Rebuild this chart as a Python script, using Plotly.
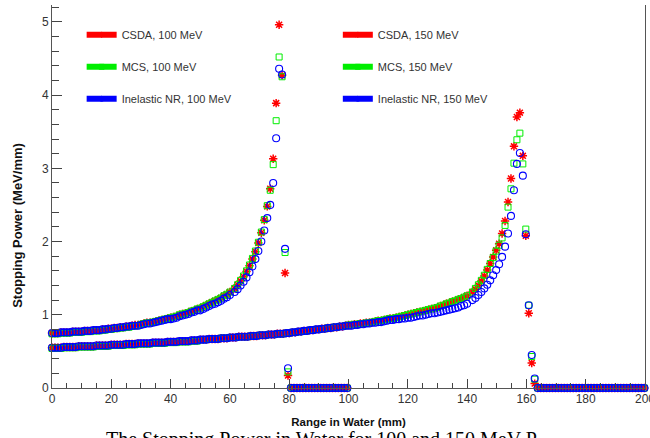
import plotly.graph_objects as go

# ---------------- data ----------------
# 100 MeV beam: sample positions (mm)
x_100_flat = [0, 1, 2, 3, 4, 5, 6, 7, 8, 9, 10, 11, 12, 13, 14, 15, 16, 17, 18, 19,
              20, 21, 22, 23, 24, 25, 26, 27, 28, 29, 30, 31, 32, 33, 34, 35, 36, 37, 38, 39,
              40, 41, 42, 43, 44, 45, 46, 47, 48, 49, 50, 51, 52, 53, 54, 55, 56, 57, 58, 59, 60]
x_100_peak = [61.6, 62.6, 63.6, 64.6, 65.6, 66.6, 67.6, 68.6, 69.6, 70.6, 71.6, 72.6, 73.6,
              74.6, 75.6, 76.6, 77.6, 78.6, 79.6]
x_100_tail = [80.6, 81.6, 82.6, 83.6, 84.6, 85.6, 86.6, 87.6, 88.6, 89.6,
              90.6, 91.6, 92.6, 93.6, 94.6, 95.6, 96.6, 97.6, 98.6, 99.6]

csda_100_flat = [0.75, 0.75, 0.75, 0.76, 0.76, 0.76, 0.76, 0.77, 0.77, 0.77,
                 0.77, 0.78, 0.78, 0.78, 0.79, 0.79, 0.79, 0.80, 0.80, 0.81,
                 0.81, 0.82, 0.82, 0.83, 0.83, 0.84, 0.84, 0.85, 0.86, 0.86,
                 0.87, 0.88, 0.89, 0.89, 0.90, 0.91, 0.92, 0.93, 0.94, 0.95,
                 0.96, 0.97, 0.98, 1.00, 1.01, 1.02, 1.03, 1.05, 1.06, 1.08,
                 1.09, 1.11, 1.13, 1.15, 1.17, 1.19, 1.21, 1.23, 1.26, 1.28,
                 1.31]
csda_100_peak = [1.36, 1.41, 1.46, 1.52, 1.59, 1.67, 1.76, 1.86, 1.98, 2.12, 2.29, 2.48, 2.72,
                 3.13, 3.89, 4.96, 4.27, 1.57, 0.17]

mcs_100_flat = [0.74, 0.74, 0.74, 0.75, 0.75, 0.75, 0.75, 0.76, 0.76, 0.76,
                0.76, 0.77, 0.77, 0.77, 0.78, 0.78, 0.78, 0.79, 0.79, 0.80,
                0.80, 0.81, 0.81, 0.82, 0.82, 0.83, 0.83, 0.84, 0.85, 0.85,
                0.87, 0.88, 0.89, 0.89, 0.90, 0.91, 0.92, 0.93, 0.94, 0.95,
                0.96, 0.97, 0.98, 1.00, 1.01, 1.02, 1.03, 1.05, 1.06, 1.08,
                1.09, 1.11, 1.13, 1.15, 1.17, 1.19, 1.21, 1.23, 1.26, 1.28,
                1.31]
mcs_100_peak = [1.36, 1.41, 1.47, 1.53, 1.60, 1.68, 1.77, 1.87, 1.99, 2.13, 2.30, 2.49, 2.70,
                3.05, 3.65, 4.52, 4.25, 1.85, 0.22]

inel_100_flat = [0.75, 0.75, 0.75, 0.76, 0.76, 0.76, 0.76, 0.77, 0.77, 0.77,
                 0.77, 0.78, 0.78, 0.78, 0.79, 0.79, 0.79, 0.80, 0.80, 0.81,
                 0.81, 0.82, 0.82, 0.83, 0.83, 0.84, 0.84, 0.85, 0.85, 0.85,
                 0.86, 0.87, 0.88, 0.88, 0.89, 0.90, 0.91, 0.92, 0.93, 0.94,
                 0.94, 0.95, 0.96, 0.98, 0.99, 1.00, 1.01, 1.03, 1.04, 1.06,
                 1.06, 1.08, 1.10, 1.12, 1.14, 1.15, 1.17, 1.19, 1.22, 1.24,
                 1.27]
inel_100_peak = [1.31, 1.35, 1.40, 1.45, 1.51, 1.58, 1.66, 1.76, 1.87, 2.00, 2.15, 2.32, 2.50,
                 2.80, 3.41, 4.36, 4.28, 1.90, 0.27]

zeros_100_tail = [0, 0, 0, 0, 0, 0, 0, 0, 0, 0, 0, 0, 0, 0, 0, 0, 0, 0, 0, 0]

# 150 MeV beam: sample positions (mm)
x_150_flat = [0, 1, 2, 3, 4, 5, 6, 7, 8, 9, 10, 11, 12, 13, 14, 15, 16, 17, 18, 19,
              20, 21, 22, 23, 24, 25, 26, 27, 28, 29, 30, 31, 32, 33, 34, 35, 36, 37, 38, 39,
              40, 41, 42, 43, 44, 45, 46, 47, 48, 49, 50, 51, 52, 53, 54, 55, 56, 57, 58, 59,
              60, 61, 62, 63, 64, 65, 66, 67, 68, 69, 70, 71, 72, 73, 74, 75, 76, 77, 78, 79,
              80, 81, 82, 83, 84, 85, 86, 87, 88, 89, 90, 91, 92, 93, 94, 95, 96, 97, 98, 99,
              100, 101, 102, 103, 104, 105, 106, 107, 108, 109, 110, 111, 112, 113, 114, 115,
              116, 117, 118, 119, 120, 121, 122, 123, 124, 125, 126, 127, 128, 129, 130, 131,
              132, 133, 134, 135, 136, 137, 138, 139, 140]
x_150_peak = [141.8, 142.8, 143.8, 144.8, 145.8, 146.8, 147.8, 148.8, 149.8, 150.8,
              151.8, 152.8, 153.8, 154.8, 155.8, 156.8, 157.8, 158.8, 159.8, 160.8,
              161.8, 162.8]
x_150_tail = [163.8, 164.8, 165.8, 166.8, 167.8, 168.8, 169.8, 170.8, 171.8, 172.8,
              173.8, 174.8, 175.8, 176.8, 177.8, 178.8, 179.8, 180.8, 181.8, 182.8,
              183.8, 184.8, 185.8, 186.8, 187.8, 188.8, 189.8, 190.8, 191.8, 192.8,
              193.8, 194.8, 195.8, 196.8, 197.8, 198.8, 199.8]

csda_150_flat = [0.55, 0.55, 0.55, 0.55, 0.56, 0.56, 0.56, 0.56, 0.56, 0.57,
                 0.57, 0.57, 0.57, 0.57, 0.57, 0.58, 0.58, 0.58, 0.58, 0.58,
                 0.59, 0.59, 0.59, 0.59, 0.59, 0.60, 0.60, 0.60, 0.60, 0.61,
                 0.61, 0.61, 0.61, 0.61, 0.62, 0.62, 0.62, 0.62, 0.62, 0.63,
                 0.63, 0.63, 0.63, 0.64, 0.64, 0.64, 0.64, 0.65, 0.65, 0.65,
                 0.66, 0.66, 0.66, 0.67, 0.67, 0.67, 0.67, 0.68, 0.68, 0.68,
                 0.69, 0.69, 0.69, 0.70, 0.70, 0.70, 0.70, 0.71, 0.71, 0.71,
                 0.72, 0.72, 0.72, 0.73, 0.73, 0.73, 0.74, 0.74, 0.74, 0.75,
                 0.75, 0.76, 0.76, 0.77, 0.77, 0.78, 0.78, 0.79, 0.79, 0.80,
                 0.80, 0.81, 0.81, 0.82, 0.82, 0.83, 0.83, 0.84, 0.84, 0.85,
                 0.86, 0.86, 0.87, 0.87, 0.88, 0.88, 0.89, 0.89, 0.90, 0.91,
                 0.92, 0.92, 0.93, 0.94, 0.95, 0.95, 0.96, 0.97, 0.98, 0.99,
                 1.00, 1.01, 1.02, 1.03, 1.04, 1.05, 1.06, 1.07, 1.08, 1.09,
                 1.10, 1.12, 1.13, 1.15, 1.16, 1.18, 1.19, 1.21, 1.22, 1.24,
                 1.26]
csda_150_peak = [1.31, 1.35, 1.40, 1.46, 1.53, 1.61, 1.70, 1.79, 1.88, 1.97,
                 2.11, 2.28, 2.54, 2.86, 3.30, 3.70, 3.76, 3.17, 2.08, 1.02,
                 0.34, 0.06]

mcs_150_flat = [0.54, 0.54, 0.54, 0.54, 0.55, 0.55, 0.55, 0.55, 0.55, 0.56,
                0.56, 0.56, 0.56, 0.56, 0.56, 0.57, 0.57, 0.57, 0.57, 0.57,
                0.58, 0.58, 0.58, 0.58, 0.58, 0.59, 0.59, 0.59, 0.59, 0.60,
                0.60, 0.60, 0.60, 0.60, 0.61, 0.61, 0.61, 0.61, 0.61, 0.62,
                0.62, 0.62, 0.62, 0.63, 0.63, 0.63, 0.63, 0.64, 0.64, 0.64,
                0.66, 0.66, 0.66, 0.67, 0.67, 0.67, 0.67, 0.68, 0.68, 0.68,
                0.69, 0.69, 0.69, 0.70, 0.70, 0.70, 0.70, 0.71, 0.71, 0.71,
                0.72, 0.72, 0.72, 0.73, 0.73, 0.73, 0.74, 0.74, 0.74, 0.75,
                0.75, 0.76, 0.76, 0.77, 0.77, 0.78, 0.78, 0.79, 0.79, 0.80,
                0.80, 0.81, 0.81, 0.82, 0.82, 0.83, 0.83, 0.84, 0.84, 0.85,
                0.86, 0.86, 0.87, 0.87, 0.88, 0.88, 0.89, 0.89, 0.90, 0.91,
                0.92, 0.92, 0.93, 0.94, 0.95, 0.95, 0.96, 0.97, 0.98, 0.99,
                1.00, 1.01, 1.02, 1.03, 1.04, 1.05, 1.06, 1.07, 1.08, 1.09,
                1.10, 1.12, 1.13, 1.15, 1.16, 1.18, 1.19, 1.21, 1.22, 1.24,
                1.26]
mcs_150_peak = [1.31, 1.36, 1.41, 1.47, 1.54, 1.62, 1.70, 1.78, 1.87, 1.95,
                2.05, 2.22, 2.47, 2.72, 3.07, 3.39, 3.48, 3.06, 2.17, 1.13,
                0.43, 0.12]

inel_150_flat = [0.55, 0.55, 0.55, 0.55, 0.56, 0.56, 0.56, 0.56, 0.56, 0.57,
                 0.57, 0.57, 0.57, 0.57, 0.57, 0.58, 0.58, 0.58, 0.58, 0.58,
                 0.59, 0.59, 0.59, 0.59, 0.59, 0.60, 0.60, 0.60, 0.60, 0.61,
                 0.61, 0.61, 0.61, 0.61, 0.62, 0.62, 0.62, 0.62, 0.62, 0.63,
                 0.63, 0.63, 0.63, 0.64, 0.64, 0.64, 0.64, 0.65, 0.65, 0.65,
                 0.66, 0.66, 0.66, 0.67, 0.67, 0.67, 0.67, 0.68, 0.68, 0.68,
                 0.69, 0.69, 0.69, 0.70, 0.70, 0.70, 0.70, 0.71, 0.71, 0.71,
                 0.72, 0.72, 0.72, 0.73, 0.73, 0.73, 0.74, 0.74, 0.74, 0.75,
                 0.75, 0.76, 0.76, 0.77, 0.77, 0.78, 0.78, 0.79, 0.79, 0.80,
                 0.80, 0.81, 0.81, 0.82, 0.82, 0.83, 0.83, 0.84, 0.84, 0.85,
                 0.85, 0.85, 0.86, 0.86, 0.87, 0.87, 0.88, 0.88, 0.89, 0.89,
                 0.90, 0.90, 0.91, 0.92, 0.93, 0.93, 0.94, 0.94, 0.95, 0.95,
                 0.96, 0.96, 0.97, 0.98, 0.99, 0.99, 1.00, 1.01, 1.02, 1.02,
                 1.03, 1.04, 1.05, 1.06, 1.07, 1.08, 1.09, 1.10, 1.12, 1.13,
                 1.15]
inel_150_peak = [1.20, 1.23, 1.27, 1.31, 1.36, 1.41, 1.47, 1.54, 1.61, 1.69,
                 1.79, 1.93, 2.11, 2.35, 2.70, 3.06, 3.21, 2.90, 2.10, 1.13,
                 0.45, 0.13]

zeros_150_tail = [0, 0, 0, 0, 0, 0, 0, 0, 0, 0, 0, 0, 0, 0, 0, 0, 0, 0, 0, 0,
                  0, 0, 0, 0, 0, 0, 0, 0, 0, 0, 0, 0, 0, 0, 0, 0, 0]

legend_col1 = ["CSDA, 100 MeV", "MCS, 100 MeV", "Inelastic NR, 100 MeV"]
legend_col2 = ["CSDA, 150 MeV", "MCS, 150 MeV", "Inelastic NR, 150 MeV"]

x_title = "Range in Water (mm)"
y_title = "Stopping Power (MeV/mm)"
caption = "The Stopping Power in Water for 100 and 150 MeV P"

# assembled series
x_100 = x_100_flat + x_100_peak + x_100_tail
x_150 = x_150_flat + x_150_peak + x_150_tail
csda_100 = csda_100_flat + csda_100_peak + zeros_100_tail
mcs_100 = mcs_100_flat + mcs_100_peak + zeros_100_tail
inel_100 = inel_100_flat + inel_100_peak + zeros_100_tail
csda_150 = csda_150_flat + csda_150_peak + zeros_150_tail
mcs_150 = mcs_150_flat + mcs_150_peak + zeros_150_tail
inel_150 = inel_150_flat + inel_150_peak + zeros_150_tail

# ---------------- styles ----------------
RED, GREEN, BLUE = "#ff0000", "#00ee00", "#0000ff"
SANS = "Liberation Sans, Arial, sans-serif"

styles = {
    "csda": dict(symbol="asterisk", size=7, color=RED, line=dict(color=RED, width=1.5)),
    "mcs": dict(symbol="square-open", size=6, color=GREEN, line=dict(color=GREEN, width=1)),
    "inel": dict(symbol="circle-open", size=7, color=BLUE, line=dict(color=BLUE, width=1.1)),
}
colors = {"csda": RED, "mcs": GREEN, "inel": BLUE}

fig = go.Figure()

series = [
    ("csda", x_100, csda_100), ("csda", x_150, csda_150),
    ("mcs", x_100, mcs_100), ("mcs", x_150, mcs_150),
    ("inel", x_100, inel_100), ("inel", x_150, inel_150),
]
for key, xs, ys in series:
    fig.add_trace(go.Scatter(x=xs, y=ys, mode="markers", marker=styles[key],
                             showlegend=False, cliponaxis=False))

# legend entries (two columns, as in the reference)
keys = ["csda", "mcs", "inel"]
for col, names, leg in ((1, legend_col1, "legend"), (2, legend_col2, "legend2")):
    for k, name in zip(keys, names):
        fig.add_trace(go.Scatter(x=[None], y=[None], mode="lines+markers", name=name,
                                 line=dict(color=colors[k], width=6),
                                 marker=dict(symbol=styles[k]["symbol"], size=5, color=colors[k],
                                             line=dict(color=colors[k], width=1)),
                                 legend=leg, legendgroup=f"{col}{k}"))

leg_common = dict(font=dict(family=SANS, size=11, color="#333333"),
                  bgcolor="rgba(0,0,0,0)", tracegroupgap=13, itemwidth=30,
                  xanchor="left", yanchor="top", orientation="v")

fig.update_layout(
    width=650, height=438,
    margin=dict(l=52, r=5, t=5, b=50, autoexpand=False),
    paper_bgcolor="white", plot_bgcolor="white",
    legend=dict(x=0.05, y=0.96, **leg_common),
    legend2=dict(x=0.482, y=0.96, **leg_common),
    xaxis=dict(range=[0, 200], dtick=20, tick0=0, ticks="inside", ticklen=9, tickwidth=1,
               tickcolor="#444", showline=True, linecolor="#555", linewidth=1,
               showgrid=False, zeroline=False, ticklabeloverflow="allow", automargin=False,
               tickfont=dict(family=SANS, size=12, color="#333"),
               minor=dict(dtick=5, ticks="inside", ticklen=5, tickcolor="#444"),
               title=dict(text="<b>" + x_title + "</b>", standoff=12,
                          font=dict(family=SANS, size=11.5, color="#111"))),
    yaxis=dict(range=[0, 5.23], dtick=1, tick0=0, ticks="inside", ticklen=10, tickwidth=1,
               tickcolor="#444", showline=True, linecolor="#555", linewidth=1, mirror=True,
               showgrid=False, zeroline=False, automargin=False,
               tickfont=dict(family=SANS, size=12, color="#333"),
               minor=dict(dtick=0.2, ticks="inside", ticklen=7, tickcolor="#444")),
    annotations=[
        dict(text="<b>" + y_title + "</b>", xref="paper", yref="paper",
             x=-0.058, y=0.425, xanchor="center", yanchor="middle", textangle=-90,
             showarrow=False, font=dict(family=SANS, size=13, color="#111")),
        dict(text=caption, xref="paper", yref="paper", x=0.455, y=-0.099,
             xanchor="center", yanchor="top", showarrow=False,
             font=dict(family="Liberation Serif, Times New Roman, serif", size=20,
                       color="#000")),
    ],
)

fig.write_html("out.html")
